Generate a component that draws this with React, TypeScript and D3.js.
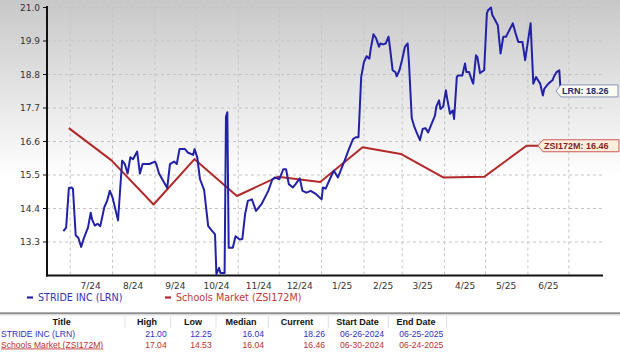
import React from "react";
import * as d3 from "d3";

// ---------- DATA ----------
const lrnPoints: [string, number][] = [
  ["2024-06-26", 13.66], ["2024-06-28", 13.77], ["2024-06-30", 15.07], ["2024-07-02", 15.09],
  ["2024-07-03", 15.05], ["2024-07-05", 13.52], ["2024-07-07", 13.43], ["2024-07-09", 13.14],
  ["2024-07-11", 13.43], ["2024-07-14", 13.77], ["2024-07-16", 14.26], ["2024-07-17", 14.04],
  ["2024-07-19", 13.84], ["2024-07-21", 13.9], ["2024-07-23", 13.82], ["2024-07-26", 14.45],
  ["2024-07-28", 14.65], ["2024-07-30", 14.98], ["2024-08-01", 14.76], ["2024-08-05", 14.01],
  ["2024-08-08", 15.97], ["2024-08-10", 15.86], ["2024-08-12", 15.55], ["2024-08-14", 16.08],
  ["2024-08-16", 16.02], ["2024-08-19", 16.27], ["2024-08-21", 15.55], ["2024-08-23", 15.86],
  ["2024-08-28", 15.86], ["2024-09-01", 15.94], ["2024-09-02", 15.86], ["2024-09-04", 15.55],
  ["2024-09-07", 15.31], ["2024-09-10", 15.07], ["2024-09-12", 15.86], ["2024-09-15", 15.94],
  ["2024-09-17", 15.86], ["2024-09-19", 16.35], ["2024-09-23", 16.35], ["2024-09-25", 16.24],
  ["2024-09-29", 16.16], ["2024-09-30", 16.35], ["2024-10-02", 16.08], ["2024-10-04", 15.36],
  ["2024-10-07", 15.01], ["2024-10-10", 13.82], ["2024-10-13", 13.66], ["2024-10-15", 13.55],
  ["2024-10-16", 12.25], ["2024-10-18", 12.45], ["2024-10-19", 12.28], ["2024-10-22", 12.28],
  ["2024-10-23", 17.4], ["2024-10-24", 17.56], ["2024-10-25", 13.11], ["2024-10-28", 13.11],
  ["2024-10-30", 13.49], ["2024-11-02", 13.38], ["2024-11-04", 13.4], ["2024-11-06", 14.21],
  ["2024-11-08", 14.65], ["2024-11-11", 14.7], ["2024-11-14", 14.32], ["2024-11-18", 14.54],
  ["2024-11-23", 14.98], ["2024-11-26", 15.36], ["2024-11-28", 15.42], ["2024-12-01", 15.36],
  ["2024-12-04", 15.69], ["2024-12-06", 15.69], ["2024-12-08", 15.2], ["2024-12-11", 15.09],
  ["2024-12-13", 15.2], ["2024-12-16", 15.39], ["2024-12-18", 14.98], ["2024-12-21", 14.92],
  ["2024-12-24", 14.98], ["2024-12-28", 14.87], ["2025-01-01", 14.7], ["2025-01-02", 15.09],
  ["2025-01-04", 15.05], ["2025-01-07", 15.36], ["2025-01-10", 15.64], ["2025-01-13", 15.42],
  ["2025-01-18", 15.99], ["2025-01-21", 16.35], ["2025-01-24", 16.68], ["2025-01-26", 16.74],
  ["2025-01-28", 16.74], ["2025-01-30", 18.72], ["2025-02-01", 19.21], ["2025-02-03", 19.4],
  ["2025-02-05", 19.32], ["2025-02-06", 19.65], ["2025-02-08", 20.12], ["2025-02-10", 19.98],
  ["2025-02-12", 19.71], ["2025-02-13", 19.82], ["2025-02-15", 19.79], ["2025-02-17", 19.82],
  ["2025-02-19", 20.04], ["2025-02-20", 19.71], ["2025-02-22", 18.94], ["2025-02-24", 18.88],
  ["2025-02-25", 18.74], ["2025-02-27", 18.94], ["2025-03-01", 19.29], ["2025-03-03", 19.71],
  ["2025-03-05", 19.82], ["2025-03-06", 19.16], ["2025-03-08", 17.37], ["2025-03-10", 17.07],
  ["2025-03-12", 16.85], ["2025-03-14", 16.65], ["2025-03-16", 17.01], ["2025-03-18", 17.04],
  ["2025-03-20", 16.9], ["2025-03-22", 17.12], ["2025-03-25", 17.45], ["2025-03-26", 17.75],
  ["2025-03-28", 17.95], ["2025-03-29", 17.67], ["2025-03-31", 17.75], ["2025-04-02", 18.28],
  ["2025-04-03", 18.0], ["2025-04-05", 17.51], ["2025-04-07", 17.62], ["2025-04-08", 17.34],
  ["2025-04-10", 18.72], ["2025-04-11", 18.77], ["2025-04-14", 18.77], ["2025-04-16", 19.16],
  ["2025-04-17", 18.88], ["2025-04-19", 18.88], ["2025-04-21", 18.61], ["2025-04-22", 18.5],
  ["2025-04-24", 19.43], ["2025-04-25", 19.38], ["2025-04-27", 18.85], ["2025-04-30", 18.94],
  ["2025-05-02", 20.81], ["2025-05-03", 20.92], ["2025-05-05", 21.0], ["2025-05-06", 20.75],
  ["2025-05-08", 20.59], ["2025-05-10", 20.42], ["2025-05-12", 19.49], ["2025-05-14", 20.04],
  ["2025-05-16", 20.04], ["2025-05-21", 20.48], ["2025-05-23", 20.15], ["2025-05-25", 19.87],
  ["2025-05-28", 19.87], ["2025-05-30", 19.27], ["2025-06-03", 20.48], ["2025-06-05", 18.5],
  ["2025-06-07", 18.72], ["2025-06-10", 18.5], ["2025-06-12", 18.11], ["2025-06-13", 18.33],
  ["2025-06-16", 18.5], ["2025-06-19", 18.61], ["2025-06-20", 18.72], ["2025-06-22", 18.88],
  ["2025-06-24", 18.94], ["2025-06-25", 18.26],
];

const zsiPoints: [string, number][] = [
  ["2024-06-30", 17.04], ["2024-07-31", 15.99], ["2024-08-31", 14.53], ["2024-09-30", 16.02],
  ["2024-10-31", 14.81], ["2024-11-30", 15.44], ["2024-12-31", 15.27], ["2025-01-31", 16.41],
  ["2025-02-28", 16.19], ["2025-03-31", 15.42], ["2025-04-30", 15.44], ["2025-05-31", 16.46],
  ["2025-06-24", 16.46],
];

const yTicks = [13.3, 14.4, 15.5, 16.6, 17.7, 18.8, 19.9, 21.0];
const monthStarts = [
  "2024-07-01", "2024-08-01", "2024-09-01", "2024-10-01", "2024-11-01", "2024-12-01",
  "2025-01-01", "2025-02-01", "2025-03-01", "2025-04-01", "2025-05-01", "2025-06-01", "2025-07-01",
];
const monthLabels = ["7/24", "8/24", "9/24", "10/24", "11/24", "12/24", "1/25", "2/25", "3/25", "4/25", "5/25", "6/25"];
const monthLabelDates = [
  "2024-07-16", "2024-08-16", "2024-09-16", "2024-10-16", "2024-11-16", "2024-12-16",
  "2025-01-16", "2025-02-15", "2025-03-16", "2025-04-16", "2025-05-16", "2025-06-16",
];

const seriesNames = ["STRIDE INC (LRN)", "Schools Market (ZSI172M)"];
const lastLabels = ["LRN: 18.26", "ZSI172M: 16.46"];
const tableHeaders = ["Title", "High", "Low", "Median", "Current", "Start Date", "End Date"];
const tableRows = [
  ["STRIDE INC (LRN)", "21.00", "12.25", "16.04", "18.26", "06-26-2024", "06-25-2025"],
  ["Schools Market (ZSI172M)", "17.04", "14.53", "16.04", "16.46", "06-30-2024", "06-24-2025"],
];

// ---------- LAYOUT ----------
const W = 620, H = 356;
const L = 47, R = 603, T = 7.5, B = 275.5;
const BLUE = "#2222a8";
const RED = "#b32828";

const parse = d3.timeParse("%Y-%m-%d");

export default function App() {
  const x = d3.scaleTime()
    .domain([parse("2024-06-14")!, parse("2025-07-26")!])
    .range([L, R]);
  const y = d3.scaleLinear().domain([12.2, 21.0]).range([B, T]);

  const line = d3.line<[string, number]>()
    .x((d) => x(parse(d[0])!))
    .y((d) => y(d[1]));

  const lrnLast = lrnPoints[lrnPoints.length - 1];
  const zsiLast = zsiPoints[zsiPoints.length - 1];

  const colHeaderX = [61.7, 147, 193, 241, 297, 357.5, 416];
  const colRightX = [0, 166.7, 211.7, 264, 325, 384, 443.3];
  const colSeps = [125, 170.7, 216, 268.3, 328.3, 388.3, 446.7];

  const label = (tipX: number, yv: number, w: number, fill: string, stroke: string, color: string, text: string) => {
    const cy = y(yv);
    const h = 6;
    const d = `M${tipX},${cy} L${tipX + 5},${cy - h} L${tipX + w},${cy - h} L${tipX + w},${cy + h} L${tipX + 5},${cy + h} Z`;
    return (
      <g>
        <path d={d} fill={fill} stroke={stroke} strokeWidth={1} />
        <text x={tipX + 6} y={cy + 3.2} fontFamily="Liberation Sans, Arial, sans-serif" fontWeight="bold" fontSize={9} fill={color}>
          {text}
        </text>
      </g>
    );
  };

  return (
    <svg width={W} height={H} style={{ position: "absolute", left: 0, top: 0 }} xmlns="http://www.w3.org/2000/svg">
      <defs>
        <linearGradient id="bg" x1="0" y1="0" x2="0" y2="1">
          <stop offset="0" stopColor="#c8c8c8" />
          <stop offset="0.5" stopColor="#ffffff" />
          <stop offset="1" stopColor="#ffffff" />
        </linearGradient>
      </defs>
      <rect x={0} y={0} width={W} height={H} fill="url(#bg)" />

      {/* grid */}
      {yTicks.map((t) => (
        <line key={"h" + t} x1={L} x2={R - 1} y1={y(t)} y2={y(t)} stroke="#c4c4c4" strokeDasharray="3,3" strokeWidth={1} />
      ))}
      {monthStarts.map((m) => (
        <line key={"v" + m} x1={x(parse(m)!)} x2={x(parse(m)!)} y1={T} y2={B} stroke="#c4c4c4" strokeDasharray="3,3" strokeWidth={1} />
      ))}

      {/* axes */}
      <line x1={L} x2={L} y1={T - 1.5} y2={B + 1} stroke="#111" strokeWidth={2} />
      <line x1={L - 1} x2={R} y1={B} y2={B} stroke="#111" strokeWidth={2} />
      {yTicks.map((t) => (
        <g key={"yt" + t}>
          <line x1={L - 4} x2={L} y1={y(t)} y2={y(t)} stroke="#111" strokeWidth={1} />
          <text x={40} y={y(t) + 3.2} textAnchor="end" fontFamily="DejaVu Sans, Verdana, sans-serif" fontSize={9} fill="#333">
            {t.toFixed(1)}
          </text>
        </g>
      ))}
      {monthLabels.map((lab, i) => (
        <text key={"xl" + lab} x={x(parse(monthLabelDates[i])!)} y={288.5} textAnchor="middle" fontFamily="DejaVu Sans, Verdana, sans-serif" fontSize={9} fill="#333">
          {lab}
        </text>
      ))}

      {/* series */}
      <path d={line(zsiPoints) || ""} fill="none" stroke={RED} strokeWidth={2} strokeLinejoin="round" />
      <path d={line(lrnPoints) || ""} fill="none" stroke={BLUE} strokeWidth={2} strokeLinejoin="round" />

      {/* end labels */}
      {label(556, lrnLast[1], 62, "#fbfbf3", "#8894b8", "#1e2a6e", lastLabels[0])}
      {label(538, zsiLast[1], 81, "#fbeedc", "#cc5a5a", "#8a1e1e", lastLabels[1])}

      {/* legend */}
      <line x1={27} x2={33} y1={297.5} y2={297.5} stroke={BLUE} strokeWidth={2.2} />
      <text x={38} y={301} fontFamily="DejaVu Sans, Verdana, sans-serif" fontSize={9.6} fill="#3535b0">{seriesNames[0]}</text>
      <line x1={165} x2={171} y1={297.5} y2={297.5} stroke={RED} strokeWidth={2.2} />
      <text x={176} y={301} fontFamily="DejaVu Sans, Verdana, sans-serif" fontSize={9.6} fill="#c03a3a">{seriesNames[1]}</text>

      {/* table */}
      <rect x={0} y={312.3} width={W} height={2} fill="#8c8c8c" />
      <line x1={0} x2={W} y1={315} y2={315} stroke="#dcdcdc" strokeWidth={1} />
      {colSeps.map((cx) => (
        <line key={"cs" + cx} x1={cx} x2={cx} y1={316} y2={328} stroke="#e2e2e2" strokeWidth={1} />
      ))}
      {tableHeaders.map((h, i) => (
        <text key={"th" + h} x={colHeaderX[i]} y={325} textAnchor="middle" fontFamily="Liberation Sans, Arial, sans-serif" fontWeight="bold" fontSize={9} fill="#111">
          {h}
        </text>
      ))}
      {tableRows.map((row, r) => (
        <g key={"tr" + r}>
          {row.map((cell, i) => (
            <text
              key={"td" + r + i}
              x={i === 0 ? 1 : colRightX[i]}
              y={337 + r * 10.5}
              textAnchor={i === 0 ? "start" : "end"}
              fontFamily="Liberation Sans, Arial, sans-serif"
              fontSize={8.6}
              fill={r === 0 ? "#3030c4" : "#c03030"}
              textDecoration={r === 1 && i === 0 ? "underline" : undefined}
            >
              {cell}
            </text>
          ))}
        </g>
      ))}
    </svg>
  );
}
